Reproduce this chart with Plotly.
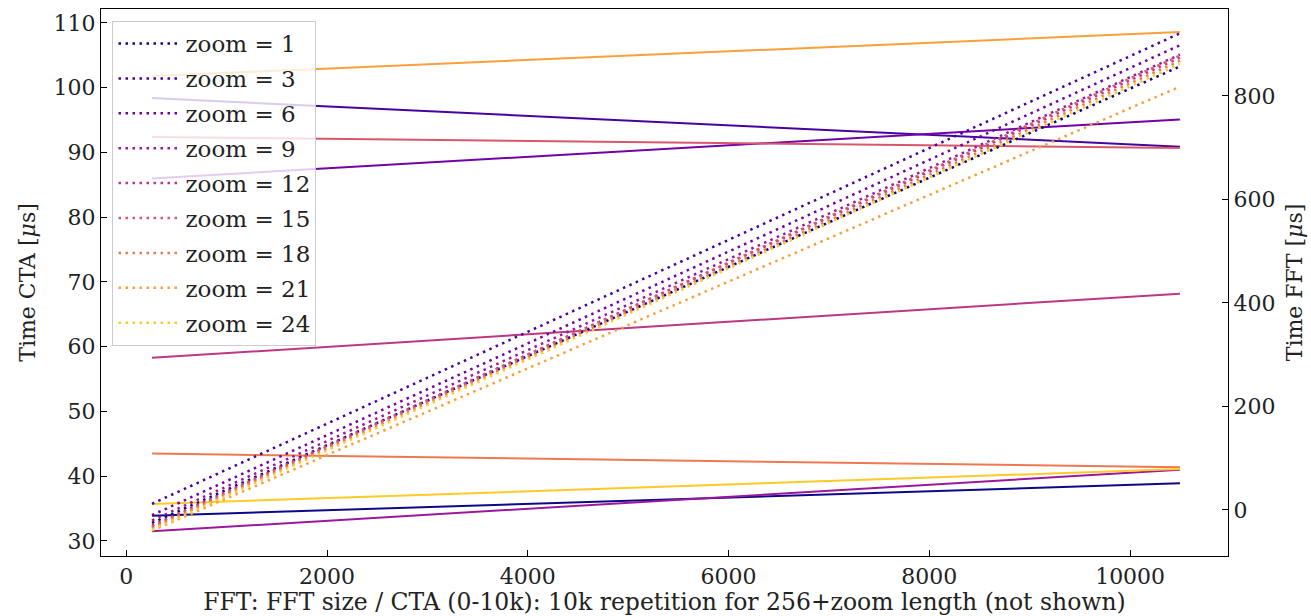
import plotly.graph_objects as go

zooms = [1, 3, 6, 9, 12, 15, 18, 21, 24]
colors = ["#0d0887", "#46039f", "#7201a8", "#9c179e", "#bd3786",
          "#d8576b", "#ed7953", "#fb9f3a", "#fdca26"]

x_points = [256, 10496]

# CTA times (left axis), start and end value per zoom
cta_start = [33.9, 98.4, 86.0, 31.5, 58.3, 92.4, 43.5, 101.8, 35.7]
cta_end = [38.9, 90.9, 95.1, 41.0, 68.2, 90.7, 41.4, 108.6, 41.1]

# FFT times (right axis), start and end value per zoom
fft_start = [-25, 12, -10, -20, -30, -33, -35, -40, -38]
fft_end = [857, 921, 898, 880, 874, 878, 868, 818, 862]

FONT = "DejaVu Serif"
FS = 22

fig = go.Figure()

for z, c, s, e in zip(zooms, colors, cta_start, cta_end):
    fig.add_trace(go.Scatter(
        x=x_points, y=[s, e], mode="lines",
        line=dict(color=c, width=2), showlegend=False,
        legendgroup=f"g{z}", yaxis="y"))

for z, c, s, e in zip(zooms, colors, fft_start, fft_end):
    fig.add_trace(go.Scatter(
        x=x_points, y=[s, e], mode="lines", name=f"zoom = {z}",
        line=dict(color=c, width=2.5, dash="2.5px,4.5px"),
        legendgroup=f"g{z}", yaxis="y2"))

axis_common = dict(
    ticks="inside", ticklen=6, tickwidth=1.3, tickcolor="black",
    showline=True, linecolor="black", linewidth=1.3,
    showgrid=False, zeroline=False,
    tickfont=dict(family=FONT, size=FS, color="#222"),
)

fig.update_layout(
    width=1311, height=616,
    margin=dict(l=101, r=83, t=9, b=60),
    paper_bgcolor="white", plot_bgcolor="white",
    font=dict(family=FONT, size=FS, color="#222"),
    xaxis=dict(
        range=[-252, 10975], tickmode="linear", tick0=0, dtick=2000,
        tickformat="d", mirror=True,
        title=dict(text="FFT: FFT size / CTA (0-10k): 10k repetition for 256+zoom length (not shown)",
                   font=dict(family=FONT, size=23.5), standoff=2),
        **axis_common),
    yaxis=dict(
        range=[27.68, 112.16], tickmode="linear", tick0=30, dtick=10,
        title=dict(text="Time CTA [<i>μ</i>s]", font=dict(family=FONT, size=FS), standoff=11),
        **axis_common),
    yaxis2=dict(
        range=[-88.9, 968], overlaying="y", side="right",
        tickmode="linear", tick0=0, dtick=200,
        title=dict(text="Time FFT [<i>μ</i>s]", font=dict(family=FONT, size=FS), standoff=12),
        **axis_common),
    legend=dict(
        x=0.0102, y=0.978, xanchor="left", yanchor="top",
        bgcolor="rgba(255,255,255,0.8)", bordercolor="#cccccc", borderwidth=1,
        font=dict(family=FONT, size=23, color="#222"),
        tracegroupgap=2, itemwidth=62,
    ),
)

fig.write_html("out.html")
